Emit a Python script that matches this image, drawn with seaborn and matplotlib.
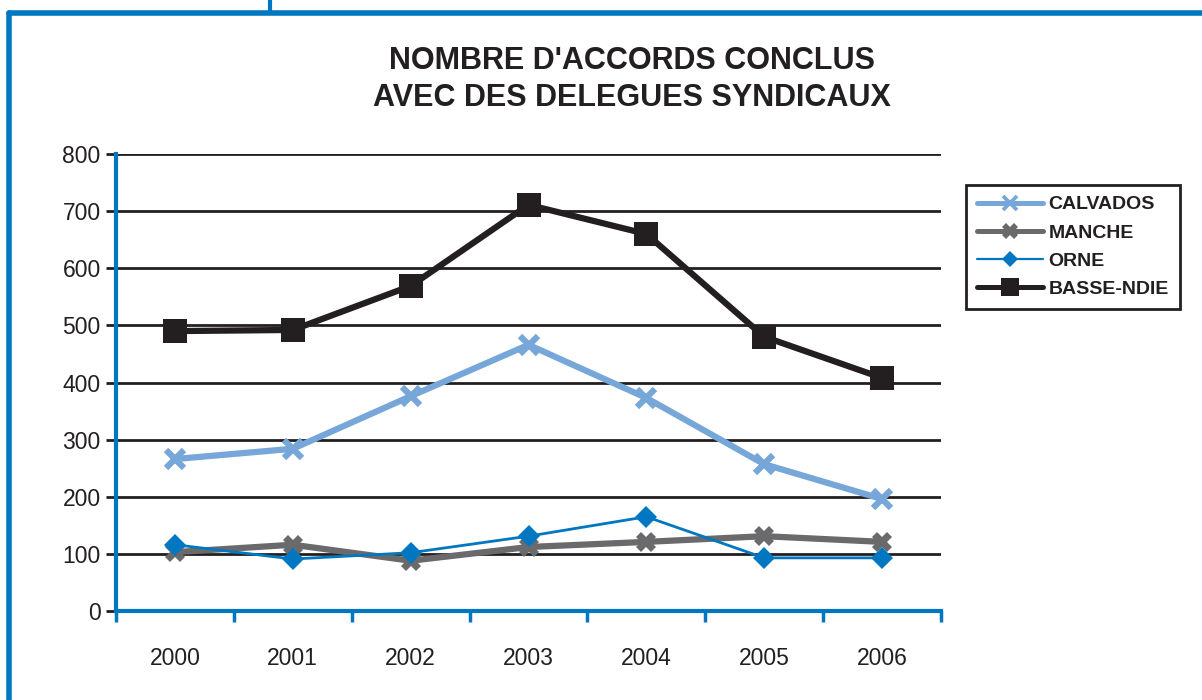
import matplotlib
matplotlib.use('Agg')
import matplotlib.pyplot as plt
import matplotlib.lines as mlines
from matplotlib.ticker import FixedLocator
import pandas as pd
import seaborn as sns

years = ['2000', '2001', '2002', '2003', '2004', '2005', '2006']
calvados = [266, 284, 376, 466, 373, 257, 196]
manche = [103, 116, 88, 112, 121, 131, 121]
orne = [116, 91, 102, 131, 165, 93, 93]
basse_ndie = [490, 492, 569, 711, 660, 480, 408]

series = {'CALVADOS': calvados, 'MANCHE': manche, 'ORNE': orne, 'BASSE-NDIE': basse_ndie}
rows = []
for name, vals in series.items():
    for i, v in enumerate(vals):
        rows.append({'pos': i, 'year': years[i], 'serie': name, 'val': v})
df = pd.DataFrame(rows)

frame_blue = '#0077C0'
ink = '#231F20'
styles = {
    'CALVADOS':   dict(color='#77A7D9', lw=4.5, marker='x', ms=13, mew=4.5),
    'MANCHE':     dict(color='#6A6A6C', lw=4.5, marker='X', ms=15, mew=0),
    'ORNE':       dict(color='#0077C0', lw=2, marker='D', ms=11, mew=0),
    'BASSE-NDIE': dict(color=ink, lw=4.5, marker='s', ms=17, mew=0),
}

sns.set_style('white')
plt.rcParams['font.family'] = ['Liberation Sans', 'DejaVu Sans']

fig = plt.figure(figsize=(12.02, 7.0), dpi=100)
ax = fig.add_axes([116/1202, 1-611/700, (941-116)/1202, (611-154)/700])

for name in series:
    st = styles[name]
    sub = df[df['serie'] == name]
    sns.lineplot(data=sub, x='pos', y='val', ax=ax, color=st['color'], linewidth=st['lw'],
                 marker=st['marker'], markersize=st['ms'], markeredgewidth=st['mew'],
                 markeredgecolor=st['color'], markerfacecolor=st['color'], legend=False, zorder=3)

ax.set_xlim(-0.5, 6.5)
ax.set_ylim(0, 800)
ax.set_xlabel('')
ax.set_ylabel('')

# y grid as black lines
ax.set_yticks(range(0, 801, 100))
for yv in range(100, 801, 100):
    ax.axhline(yv, color=ink, lw=2, zorder=1)
ax.tick_params(axis='y', length=7, width=2, color=ink, labelsize=16.5, labelcolor=ink, pad=4, left=True)

# x ticks: boundaries as marks, labels centred
ax.xaxis.set_major_locator(FixedLocator([i + 0.5 for i in range(-1, 7)]))
ax.set_xticklabels([])
ax.xaxis.set_minor_locator(FixedLocator(range(len(years))))
ax.set_xticklabels(years, minor=True)
ax.tick_params(axis='x', which='major', length=8, width=2.5, color=frame_blue, bottom=True, direction='out')
ax.tick_params(axis='x', which='minor', length=0, labelsize=16.5, labelcolor=ink, pad=26)

for s in ['top', 'right']:
    ax.spines[s].set_visible(False)
for s in ['left', 'bottom']:
    ax.spines[s].set_color(frame_blue)
    ax.spines[s].set_linewidth(3)

fig.text(632/1202, 1-61/700, "NOMBRE D'ACCORDS CONCLUS", ha='center', va='center',
         fontsize=22, fontweight='heavy', color=ink)
fig.text(632/1202, 1-98/700, "AVEC DES DELEGUES SYNDICAUX", ha='center', va='center',
         fontsize=22, fontweight='heavy', color=ink)

handles = []
for name in series:
    st = styles[name]
    handles.append(mlines.Line2D([], [], color=st['color'], lw=st['lw'] * 0.8, marker=st['marker'],
                                 markersize=st['ms'] * 0.75, markeredgewidth=st['mew'] * 0.6,
                                 markerfacecolor=st['color'], markeredgecolor=st['color'], label=name))
leg = fig.legend(handles=handles, loc='upper left', bbox_to_anchor=(966/1202, 1-185/700),
                 frameon=True, fancybox=False, edgecolor=ink, framealpha=1, handlelength=3.4,
                 prop={'family': ['Liberation Sans Narrow', 'Liberation Sans'], 'weight': 'bold', 'size': 14},
                 labelspacing=0.55, borderpad=0.55, handletextpad=0.3, borderaxespad=0)
leg.get_frame().set_linewidth(2)
for t in leg.get_texts():
    t.set_color(ink)

# blue page frame
fig.add_artist(mlines.Line2D([8.5/1202, 8.5/1202], [0, 1-12.5/700], color=frame_blue, lw=4, transform=fig.transFigure))
fig.add_artist(mlines.Line2D([8.5/1202, 1], [1-12.5/700, 1-12.5/700], color=frame_blue, lw=4, transform=fig.transFigure))
fig.add_artist(mlines.Line2D([270/1202, 270/1202], [1-12.5/700, 1], color=frame_blue, lw=3, transform=fig.transFigure))

fig.savefig('out.png', dpi=100)
plt.close(fig)
